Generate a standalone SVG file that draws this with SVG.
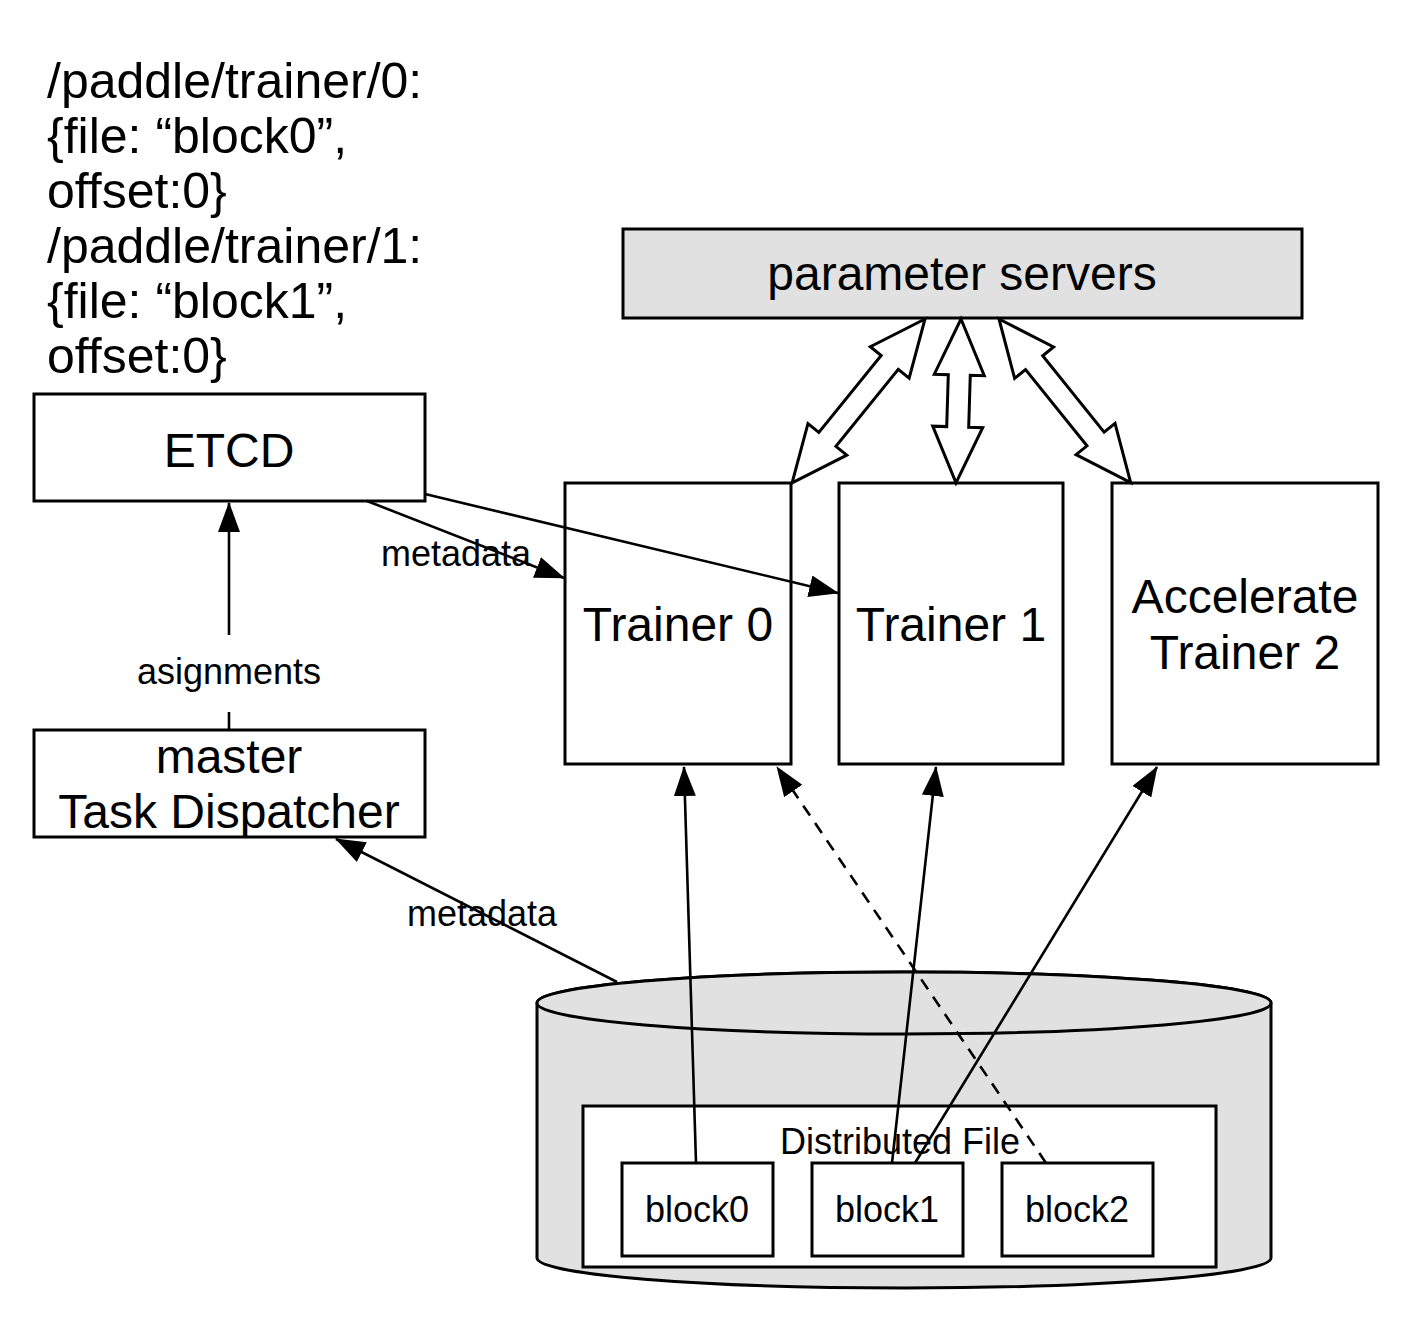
<svg xmlns="http://www.w3.org/2000/svg" width="1411" height="1323" viewBox="0 0 1411 1323">
<style>
  text { font-family: "Liberation Sans", Arial, Helvetica, sans-serif; fill: #000; }
  .big { font-size: 48px; text-anchor: middle; }
  .note { font-size: 50px; }
  .small { font-size: 36px; text-anchor: middle; }
  .box { fill: #fff; stroke: #000; stroke-width: 3; }
  .gray { fill: #e1e1e1; stroke: #000; stroke-width: 3; }
  .conn { stroke: #000; stroke-width: 2.6; fill: none; }
  .dash { stroke-dasharray: 12 9; }
  .dbl { fill: #fff; stroke: #000; stroke-width: 3; stroke-linejoin: miter; }
</style>
<defs>
  <marker id="arr" markerUnits="userSpaceOnUse" markerWidth="30" markerHeight="22" refX="29" refY="11" orient="auto">
    <path d="M0,0 L30,11 L0,22 Z" fill="#000"/>
  </marker>
</defs>
<rect width="1411" height="1323" fill="#fff"/>

<g id="etcd-note">
  <text class="note" x="47" y="98">/paddle/trainer/0:</text>
  <text class="note" x="47" y="153">{file: “block0”,</text>
  <text class="note" x="47" y="208">offset:0}</text>
  <text class="note" x="47" y="263">/paddle/trainer/1:</text>
  <text class="note" x="47" y="318">{file: “block1”,</text>
  <text class="note" x="47" y="373">offset:0}</text>
</g>

<g id="parameter-servers">
  <rect class="gray" x="623" y="229" width="679" height="89"/>
  <text class="big" x="962" y="290">parameter servers</text>
</g>

<g id="etcd">
  <rect class="box" x="34" y="394" width="391" height="107"/>
  <text class="big" x="229" y="467">ETCD</text>
</g>

<g id="master">
  <rect class="box" x="34" y="730" width="391" height="107"/>
  <text class="big" x="229" y="773">master</text>
  <text class="big" x="229" y="828">Task Dispatcher</text>
</g>

<g id="trainer0">
  <rect class="box" x="565" y="483" width="226" height="281"/>
  <text class="big" x="678" y="641">Trainer 0</text>
</g>

<g id="trainer1">
  <rect class="box" x="839" y="483" width="224" height="281"/>
  <text class="big" x="951" y="641">Trainer 1</text>
</g>

<g id="trainer2">
  <rect class="box" x="1112" y="483" width="266" height="281"/>
  <text class="big" x="1245" y="613">Accelerate</text>
  <text class="big" x="1245" y="669">Trainer 2</text>
</g>

<g id="storage">
  <path class="gray" d="M537,1003 L537,1258 A367,30 0 0 0 1271,1258 L1271,1003 A367,31 0 0 0 537,1003 Z"/>
  <ellipse class="gray" cx="904" cy="1003" rx="367" ry="31"/>
</g>

<g id="distributed-file">
  <rect class="box" x="583" y="1106" width="633" height="161"/>
  <text class="small" x="900" y="1154">Distributed File</text>
</g>

<g id="block0">
  <rect class="box" x="622" y="1163" width="151" height="93"/>
  <text class="small" x="697" y="1222">block0</text>
</g>
<g id="block1">
  <rect class="box" x="812" y="1163" width="151" height="93"/>
  <text class="small" x="887" y="1222">block1</text>
</g>
<g id="block2">
  <rect class="box" x="1002" y="1163" width="151" height="93"/>
  <text class="small" x="1077" y="1222">block2</text>
</g>

<g id="connectors">
  <line class="conn" x1="229" y1="730" x2="229" y2="712"/>
  <line class="conn" x1="229" y1="635" x2="229" y2="503" marker-end="url(#arr)"/>
  <text class="small" x="229" y="684">asignments</text>

  <line class="conn" x1="367" y1="501" x2="564" y2="578" marker-end="url(#arr)"/>
  <line class="conn" x1="425" y1="494" x2="838" y2="593" marker-end="url(#arr)"/>
  <text class="small" x="456" y="566">metadata</text>

  <line class="conn" x1="617" y1="982" x2="336" y2="839" marker-end="url(#arr)"/>
  <text class="small" x="482" y="926">metadata</text>

  <line class="conn" x1="696" y1="1163" x2="684" y2="767" marker-end="url(#arr)"/>
  <line class="conn dash" x1="1046" y1="1163" x2="777" y2="767" marker-end="url(#arr)"/>
  <line class="conn" x1="892" y1="1163" x2="936" y2="767" marker-end="url(#arr)"/>
  <line class="conn" x1="915" y1="1163" x2="1157" y2="767" marker-end="url(#arr)"/>

  <polygon class="dbl" transform="translate(925,319) rotate(129.04)" points="0,0 56,-25 56,-11 155,-11 155,-25 211,0 155,25 155,11 56,11 56,25"/>
  <polygon class="dbl" transform="translate(961,319) rotate(91.75)" points="0,0 56,-25 56,-11 108,-11 108,-25 164,0 108,25 108,11 56,11 56,25"/>
  <polygon class="dbl" transform="translate(999,319) rotate(51.17)" points="0,0 56,-25 56,-11 154,-11 154,-25 210,0 154,25 154,11 56,11 56,25"/>
</g>
</svg>
